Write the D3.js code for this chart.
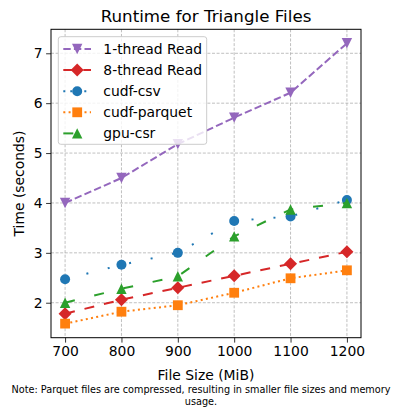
<!DOCTYPE html>
<html>
<head>
<meta charset="utf-8">
<script src="https://cdn.jsdelivr.net/npm/d3@7"></script>
<style>
  html, body { margin: 0; padding: 0; background: #fff; }
  svg { display: block; font-family: "DejaVu Sans", sans-serif; }
</style>
</head>
<body>
<svg id="chart" width="402" height="415"></svg>
<script>
// ---- data ----
const fileSizes = [700, 800, 900, 1000, 1100, 1200];
const oneThreadRead = [4.0, 4.5, 5.18, 5.71, 6.21, 7.2];
const eightThreadRead = [1.78, 2.06, 2.30, 2.54, 2.78, 3.02];
const cudfCsv = [2.47, 2.76, 3.0, 3.64, 3.73, 4.06];
const cudfParquet = [1.58, 1.82, 1.95, 2.2, 2.49, 2.65];
const gpuCsr = [2.0, 2.28, 2.53, 3.33, 3.87, 4.0];
const seriesNames = ["1-thread Read", "8-thread Read", "cudf-csv", "cudf-parquet", "gpu-csr"];
const xTicks = [700, 800, 900, 1000, 1100, 1200];
const yTicks = [2, 3, 4, 5, 6, 7];

const series = [
  { name: seriesNames[0], values: oneThreadRead, color: "#9467bd", dash: "7.4,3.2", marker: "down" },
  { name: seriesNames[1], values: eightThreadRead, color: "#d62728", dash: "10,10", marker: "diamond" },
  { name: seriesNames[2], values: cudfCsv, color: "#1f77b4", dash: "2,20", marker: "circle" },
  { name: seriesNames[3], values: cudfParquet, color: "#ff7f0e", dash: "2,3.3", marker: "square" },
  { name: seriesNames[4], values: gpuCsr, color: "#2ca02c", dash: "10,20", marker: "up" }
];

const svg = d3.select("#chart");
const L = 51, R = 361, T = 29.3, B = 337.7;

const xMin = d3.min(fileSizes), xMax = d3.max(fileSizes);
const xPad = (xMax - xMin) * 0.05;
const x = d3.scaleLinear().domain([xMin - xPad, xMax + xPad]).range([L, R]);
const allY = series.flatMap(s => s.values);
const yMin = d3.min(allY), yMax = d3.max(allY);
const yPad = (yMax - yMin) * 0.05;
const y = d3.scaleLinear().domain([yMin - yPad, yMax + yPad]).range([B, T]);

// grid
const grid = svg.append("g");
grid.selectAll(".gx").data(xTicks).join("line")
  .attr("x1", d => x(d)).attr("x2", d => x(d)).attr("y1", T).attr("y2", B)
  .attr("stroke", "#b0b0b0").attr("stroke-width", 0.8).attr("stroke-dasharray", "3,1.6");
grid.selectAll(".gy").data(yTicks).join("line")
  .attr("y1", d => y(d)).attr("y2", d => y(d)).attr("x1", L).attr("x2", R)
  .attr("stroke", "#b0b0b0").attr("stroke-width", 0.8).attr("stroke-dasharray", "3,1.6");

// axes
const xAxis = d3.axisBottom(x).tickValues(xTicks).tickSize(4.9).tickPadding(3.5).tickFormat(d3.format("d"));
const gx = svg.append("g").attr("transform", `translate(0,${B})`).call(xAxis);
const yAxis = d3.axisLeft(y).tickValues(yTicks).tickSize(4.9).tickPadding(3.5).tickFormat(d3.format("d"));
const gy = svg.append("g").attr("transform", `translate(${L},0)`).call(yAxis);
[gx, gy].forEach(g => {
  g.select(".domain").remove();
  g.selectAll("text").attr("font-family", "DejaVu Sans").attr("font-size", 13.9).attr("fill", "#000");
  g.selectAll("line").attr("stroke", "#000").attr("stroke-width", 0.8);
});

function markerPath(type, cx, cy) {
  const p = d3.path();
  if (type === "circle") { p.arc(cx, cy, 5, 0, 2 * Math.PI); }
  else if (type === "square") { const h = 4.9; p.rect(cx - h, cy - h, 2 * h, 2 * h); }
  else if (type === "diamond") { const h = 6.5; p.moveTo(cx, cy - h); p.lineTo(cx + h, cy); p.lineTo(cx, cy + h); p.lineTo(cx - h, cy); p.closePath(); }
  else if (type === "up") { const h = 5.2; p.moveTo(cx, cy - h); p.lineTo(cx + h, cy + h); p.lineTo(cx - h, cy + h); p.closePath(); }
  else if (type === "down") { const h = 5.2; p.moveTo(cx, cy + h); p.lineTo(cx + h, cy - h); p.lineTo(cx - h, cy - h); p.closePath(); }
  return p.toString();
}

const line = d3.line().x((d, i) => x(fileSizes[i])).y(d => y(d));
const plot = svg.append("g");
series.forEach(s => {
  const g = plot.append("g");
  g.append("path").attr("d", line(s.values)).attr("fill", "none")
    .attr("stroke", s.color).attr("stroke-width", 2).attr("stroke-dasharray", s.dash);
  g.selectAll("path.m").data(s.values).join("path").attr("class", "m")
    .attr("d", (d, i) => markerPath(s.marker, x(fileSizes[i]), y(d)))
    .attr("fill", s.color);
});

// frame
svg.append("rect").attr("x", L).attr("y", T).attr("width", R - L).attr("height", B - T)
  .attr("fill", "none").attr("stroke", "#000").attr("stroke-width", 1);

// legend
const lg = svg.append("g");
lg.append("rect").attr("x", 58.3).attr("y", 36.7).attr("width", 148.4).attr("height", 107.6)
  .attr("rx", 2.5).attr("fill", "#fff").attr("fill-opacity", 0.8)
  .attr("stroke", "#cccccc").attr("stroke-width", 1);
series.forEach((s, i) => {
  const cy = 49 + i * 21.1;
  lg.append("line").attr("x1", 63.3).attr("x2", 91).attr("y1", cy).attr("y2", cy)
    .attr("stroke", s.color).attr("stroke-width", 2).attr("stroke-dasharray", s.dash === "2,20" ? "2,5" : (s.dash === "10,20" ? "10,20" : s.dash))
    .attr("stroke-dashoffset", s.dash === "2,20" ? 0 : 0);
  lg.append("path").attr("d", markerPath(s.marker, 77.2, cy)).attr("fill", s.color);
  lg.append("text").attr("x", 103.3).attr("y", cy).attr("dy", "0.36em")
    .attr("font-size", 13.9).attr("fill", "#000").text(s.name);
});

// title & labels
svg.append("text").attr("x", (L + R) / 2).attr("y", 22).attr("text-anchor", "middle")
  .attr("font-size", 16.7).attr("fill", "#000").text("Runtime for Triangle Files");
svg.append("text").attr("x", (L + R) / 2).attr("y", 380).attr("text-anchor", "middle")
  .attr("font-size", 13.9).attr("fill", "#000").text("File Size (MiB)");
svg.append("text").attr("transform", `translate(24,${(T + B) / 2}) rotate(-90)`).attr("text-anchor", "middle")
  .attr("font-size", 13.9).attr("fill", "#000").text("Time (seconds)");
svg.append("text").attr("x", 201).attr("y", 393).attr("text-anchor", "middle")
  .attr("font-size", 9.7).attr("fill", "#000").text("Note: Parquet files are compressed, resulting in smaller file sizes and memory");
svg.append("text").attr("x", 201).attr("y", 405).attr("text-anchor", "middle")
  .attr("font-size", 9.7).attr("fill", "#000").text("usage.");
</script>
</body>
</html>
